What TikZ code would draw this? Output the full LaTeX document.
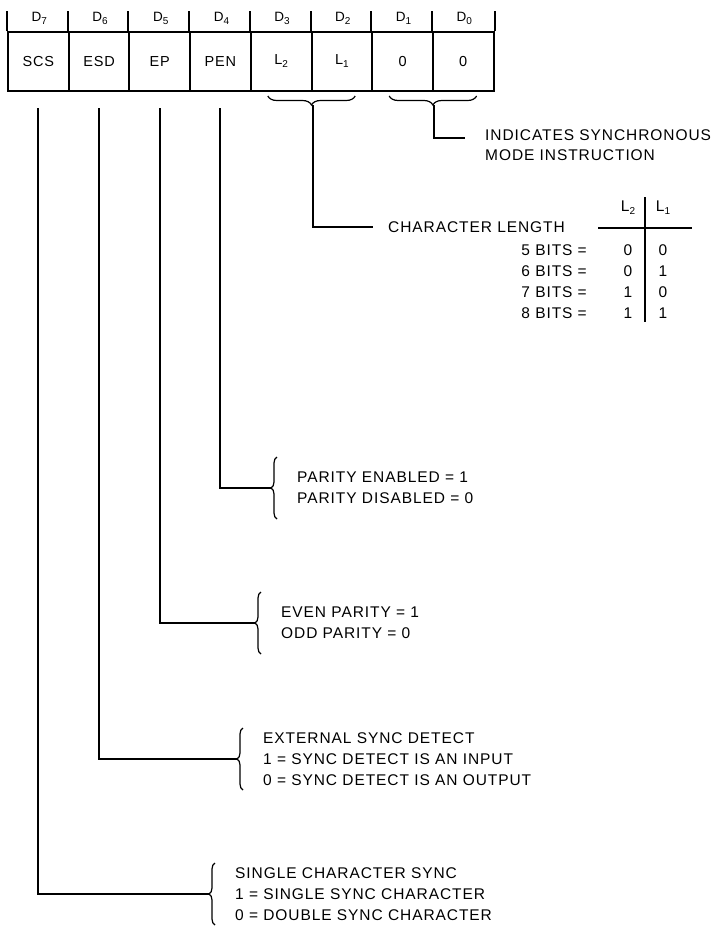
\documentclass[tikz,border=0pt]{standalone}
\usepackage{fontspec}
\setmainfont{Liberation Sans}[LetterSpace=6]
\usetikzlibrary{decorations.pathreplacing}
\tikzset{
    cell/.style={draw, line width=2pt, minimum width=60.7pt, minimum height=59pt, inner sep=0pt, font=\fontsize{14.5}{16}\selectfont},
    bitlabel/.style={anchor=base, inner sep=0pt, font=\fontsize{13.5}{15}\selectfont},
    bittick/.style={line width=2pt},
    wire/.style={line width=2pt},
    note/.style={anchor=west, align=left, inner sep=0pt, font=\fontsize{15.5}{21}\selectfont},
    notebrace/.style={decorate, decoration={brace, amplitude=6pt}, line width=1.2pt},
    fieldbrace/.style={decorate, decoration={brace, amplitude=9pt}, line width=1.2pt},
    tablerule/.style={line width=2pt}
}
\newcommand{\regCell}[4]{
    \node[cell] (#2) at (#1, 61.5) {#3};
    \path (#2.north) ++(1, -10) node[bitlabel] (#2bit) {D\raisebox{-3pt}{\fontsize{10}{10}\selectfont #4}};
    \draw[bittick] (#2.north west) -- ++(0, -20);
}
\newcommand{\fieldNote}[4]{
    \node[note] (#2) at (#3) {#4};
    \draw[notebrace] ([xshift=-20pt, yshift=-31pt]#2.west) -- ([xshift=-20pt, yshift=31pt]#2.west);
    \draw[wire] ([yshift=-16pt]#1.south) |- ([xshift=-26pt]#2.west);
}

\begin{document}
\begin{tikzpicture}[x=1pt, y=-1pt]
	\useasboundingbox (0, 0) rectangle (712, 927);

	\regCell{38.35}{scs}{SCS}{7};
	\regCell{99.05}{esd}{ESD}{6};
	\regCell{159.75}{ep}{EP}{5};
	\regCell{220.45}{pen}{PEN}{4};
	\regCell{281.15}{ltwo}{L\raisebox{-3pt}{\fontsize{10}{10}\selectfont 2}}{3};
	\regCell{341.85}{lone}{L\raisebox{-3pt}{\fontsize{10}{10}\selectfont 1}}{2};
	\regCell{402.55}{mone}{0}{1};
	\regCell{463.25}{mzero}{0}{0};
	\draw[bittick] (mzero.north east) -- ++(0, -20);

	\draw[fieldbrace] ([xshift=-18pt, yshift=-4pt]lone.south east) -- ([xshift=18pt, yshift=-4pt]ltwo.south west);
	\draw[fieldbrace] ([xshift=-18pt, yshift=-4pt]mzero.south east) -- ([xshift=18pt, yshift=-4pt]mone.south west);
	\coordinate (lentip) at ([yshift=-13pt]ltwo.south east);
	\coordinate (synctip) at ([yshift=-13pt]mone.south east);

	\node[note] (syncnote) at (485, 135) {INDICATES SYNCHRONOUS};
	\node[note] (syncmode) at (485, 155) {MODE INSTRUCTION};
	\draw[wire] (synctip) |- ([xshift=-20pt, yshift=-3pt]syncnote.west);

	\node[note] (lenlabel) at (388, 227) {CHARACTER LENGTH};
	\draw[wire] (lentip) |- ([xshift=-15pt]lenlabel.west);
	\node[note, anchor=center] (hdtwo) at (628, 208) {L\raisebox{-3pt}{\fontsize{10}{10}\selectfont 2}};
	\node[note, anchor=center] (hdone) at (663, 208) {L\raisebox{-3pt}{\fontsize{10}{10}\selectfont 1}};
	\draw[tablerule] (598, 228) -- (692, 228);
	\draw[tablerule] (645, 197) -- (645, 322);
	\foreach \bits/\vtwo/\vone in {5/0/0, 6/0/1, 7/1/0, 8/1/1} {
		\node[note, anchor=east] (bits\bits) at (587, {250 + 21*(\bits-5)}) {\bits\ BITS =};
		\node[note, anchor=center] (vtwo\bits) at (628, {250 + 21*(\bits-5)}) {\vtwo};
		\node[note, anchor=center] (vone\bits) at (663, {250 + 21*(\bits-5)}) {\vone};
	}

	\fieldNote{pen}{pennote}{297, 488}{PARITY ENABLED = 1\\PARITY DISABLED = 0};
	\fieldNote{ep}{epnote}{281, 623}{EVEN PARITY = 1\\ODD PARITY = 0};
	\fieldNote{esd}{esdnote}{263, 759}{EXTERNAL SYNC DETECT\\1 = SYNC DETECT IS AN INPUT\\0 = SYNC DETECT IS AN OUTPUT};
	\fieldNote{scs}{scsnote}{235, 894}{SINGLE CHARACTER SYNC\\1 = SINGLE SYNC CHARACTER\\0 = DOUBLE SYNC CHARACTER};
\end{tikzpicture}
\end{document}
